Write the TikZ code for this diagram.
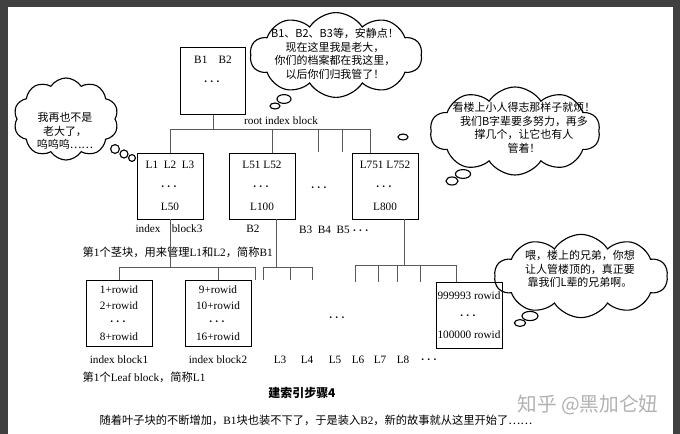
\documentclass[tikz,border=0pt]{standalone}
\usepackage{amsmath}
\usepackage{fontspec}
\setmainfont{Liberation Serif}
\newfontfamily\cjk{Noto Sans CJK SC}
\newcommand{\zh}[1]{{\cjk #1}}
\newcommand{\threedots}{$\boldsymbol{\cdots}$}
\usetikzlibrary{positioning,shapes.symbols,shapes.geometric}

\begin{document}
\begin{tikzpicture}[x=0.025cm,y=-0.025cm]
  \tikzstyle{blk}=[draw,semithick,minimum width=1.65cm,minimum height=1.65cm,
    align=center,inner sep=1pt,font=\fontsize{8}{14.9}\selectfont]
  \tikzstyle{lf}=[blk,font=\fontsize{8}{11}\selectfont]
  \tikzstyle{ln}=[draw=black!65,line width=0.7pt]
  \tikzstyle{tx}=[inner sep=1pt,font=\fontsize{8}{9.6}\selectfont]
  \tikzstyle{cl}=[draw,thick,cloud,cloud puffs=10,cloud puff arc=115,
    cloud ignores aspect,inner sep=0pt]
  \tikzstyle{ct}=[align=center,inner sep=0pt,font=\cjk\fontsize{7.8}{9.6}\selectfont]
  \tikzstyle{bb}=[draw,thick,ellipse,inner sep=0pt]

  \useasboundingbox (0,0) rectangle (680,434);
  \fill[black!75] (0,0) rectangle (680,434);
  \fill[white] (8,7) rectangle (673,434);

  % root and branch blocks
  \node[blk,minimum width=1.63cm,minimum height=1.68cm] (root) at (213,81) {B1\quad B2\\\threedots\\\mbox{}};
  \node[tx] (rootlbl) at (281,121) {root index block};

  \node[blk] (l1)   at (170,186) {L1\enspace L2\enspace L3\\\threedots\\L50};
  \node[blk] (l51)  at (262,186) {L51 L52\\\threedots\\L100};
  \node[tx]  (mid1) at (320,188) {\threedots};
  \node[blk] (l751) at (385,186) {L751 L752\\\threedots\\L800};

  \node[tx] (l1lbl)   at (169,229) {index\quad block3};
  \node[tx] (l51lbl)  at (253,229) {B2};
  \node[tx] (l751lbl) at (335,230) {B3\enspace B4\enspace B5 \threedots};
  \node[tx,anchor=west] (b1note) at (81,252)
    {\zh{第}1\zh{个茎块，用来管理}L1\zh{和}L2\zh{，简称}B1};

  % leaf blocks
  \node[lf] (ib1) at (119,313) {1+rowid\\2+rowid\\\threedots\\8+rowid};
  \node[lf] (ib2) at (218,313) {9+rowid\\10+rowid\\\threedots\\16+rowid};
  \node[tx] (mid2) at (338,318) {\threedots};
  \node[lf,font=\fontsize{8}{13.8}\selectfont] (rb) at (469,315)
    {999993 rowid\\\threedots\\100000 rowid};

  \node[tx,below=0.2cm of ib1] (ib1lbl) {index block1};
  \node[tx,below=0.2cm of ib2] (ib2lbl) {index block2};
  \foreach \x/\t [count=\i] in {280/L3,307/L4,335/L5,358/L6,380/L7,403/L8,430/\threedots}
    \node[tx] (lb\i) at (\x,360) {\t};
  \node[tx,anchor=west] (l1note) at (81,377) {\zh{第}1\zh{个}Leaf block\zh{，简称}L1};

  % tree lines
  \coordinate (h1) at (0,129);
  \coordinate (h2) at (0,267);
  \coordinate (h3) at (0,265);
  \draw[ln] (root) -- (root |- h1);
  \draw[ln] (l1) -- (l1 |- h1) -- (l751.114 |- h1) -- (l751.114);
  \draw[ln] (l51.73 |- h1) -- (l51.73);
  \coordinate (s1) at (318,152);
  \coordinate (s2) at (342,152);
  \draw[ln] (s1 |- h1) -- (s1);
  \draw[ln] (s2 |- h1) -- (s2);

  \coordinate (s3) at (255,280);
  \draw[ln] (l1) -- (l1 |- h2);
  \draw[ln] (ib1) -- (ib1 |- h2) -| (s3);
  \draw[ln] (ib2 |- h2) -- (ib2);

  \coordinate (s4) at (263,280);
  \coordinate (s5) at (290,280);
  \coordinate (s6) at (312,280);
  \draw[ln] (l51.-66) -- (l51.-66 |- h2);
  \draw[ln] (s4) |- (s6 |- h2) -- (s6);
  \draw[ln] (s5 |- h2) -- (s5);

  \coordinate (s7) at (355,282);
  \coordinate (s8) at (378,282);
  \coordinate (s9) at (397,282);
  \coordinate (s10) at (420,282);
  \draw[ln] (l751.-60) -- (l751.-60 |- h3);
  \draw[ln] (s7) |- (rb.110 |- h3) -- (rb.110);
  \foreach \s in {s8,s9,s10}
    \draw[ln] (\s |- h3) -- (\s);

  % clouds
  \node[cl,minimum width=4.3cm,minimum height=2.12cm] (cA) at (336,55) {};
  \node[ct] (tA) at (335,54) {B1、B2、B3等，安静点！\\现在这里我是老大，\\你们的档案都在我这里，\\以后你们归我管了！};
  \node[bb,minimum width=0.25cm,minimum height=0.15cm] (bA1) at (275,106) {};
  \node[bb,minimum width=0.35cm,minimum height=0.22cm] (bA2) at (284,99) {};

  \node[cl,minimum width=2.62cm,minimum height=2.05cm] (cB) at (66,119) {};
  \node[ct] (tB) at (65,131) {我再也不是\\老大了，\\呜呜呜……};
  \node[bb,minimum size=0.22cm] (bB1) at (115,149) {};
  \node[bb,minimum size=0.2cm] (bB2) at (124,154) {};
  \node[bb,minimum size=0.17cm] (bB3) at (132,158) {};

  \node[cl,minimum width=4.25cm,minimum height=2.2cm] (cC) at (515,131) {};
  \node[ct] (tC) at (524,128) {看楼上小人得志那样子就烦！\\我们B字辈要多努力，再多\\撑几个，让它也有人\\管着！};
  \node[bb,minimum width=0.25cm,minimum height=0.15cm] (bC1) at (403,137) {};
  \node[bb,minimum width=0.3cm,minimum height=0.2cm] (bC2) at (452,181) {};
  \node[bb,minimum width=0.38cm,minimum height=0.22cm] (bC3) at (463,174) {};

  \node[cl,minimum width=4.33cm,minimum height=2.08cm] (cD) at (581,276) {};
  \node[ct] (tD) at (580,269) {喂，楼上的兄弟，你想\\让人管楼顶的，真正要\\靠我们L辈的兄弟啊。};
  \node[bb,minimum width=0.28cm,minimum height=0.17cm] (bD1) at (520,323) {};
  \node[bb,minimum width=0.4cm,minimum height=0.23cm] (bD2) at (530,316) {};

  % captions
  \node[tx,font=\cjk\bfseries\fontsize{8.5}{10}\selectfont] (step) at (302,393) {建索引步骤4};
  \node[tx,anchor=west] (story) at (98,420)
    {\zh{随着叶子块的不断增加，}B1\zh{块也装不下了，于是装入}B2\zh{，新的故事就从这里开始了……}};
  \node[tx,text=black!30,font=\cjk\fontsize{14}{16}\selectfont] (mark) at (588,405) {知乎 @黑加仑妞};
\end{tikzpicture}
\end{document}
